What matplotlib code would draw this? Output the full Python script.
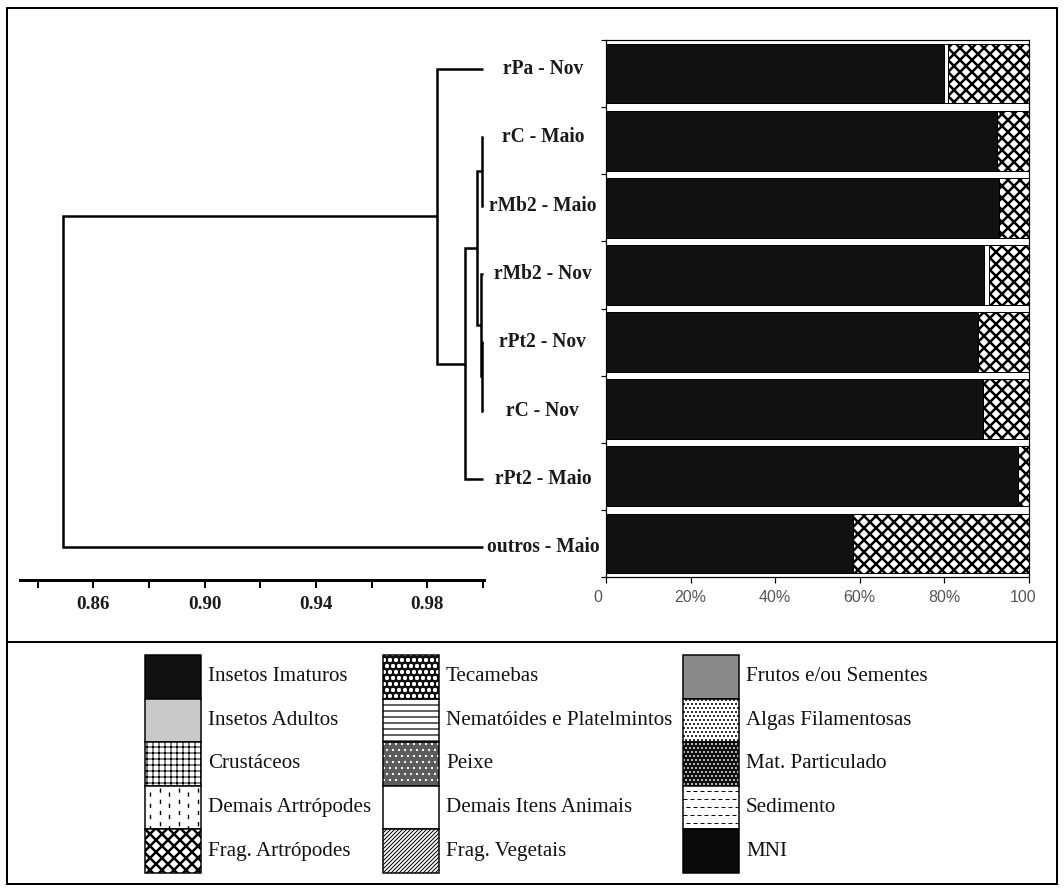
import matplotlib
matplotlib.use("Agg")
import matplotlib.pyplot as plt
import matplotlib.transforms as mtransforms
from matplotlib.patches import Rectangle
import numpy as np

W, H, DPI = 1064, 889, 72  # at 72 dpi one point is one pixel

# samples, in dendrogram leaf order (top to bottom)
leaf_names = ["rPa - Nov", "rC - Maio", "rMb2 - Maio", "rMb2 - Nov",
              "rPt2 - Nov", "rC - Nov", "rPt2 - Maio", "outros - Maio"]

# agglomeration steps: node ids follow scipy's convention (new node = n + step)
merge_pairs = [(1, 2), (4, 5), (3, 9), (8, 10), (11, 6), (0, 12), (13, 7)]
merge_heights = [0.9997, 0.9995, 0.9993, 0.9978, 0.9935, 0.9835, 0.8491]

# diet composition (%) per sample
insetos_imaturos = [80.0, 92.4, 92.9, 89.4, 87.9, 89.1, 97.4, 58.4]
demais_artropodes = [0.8, 0.0, 0.0, 1.2, 0.0, 0.0, 0.0, 0.0]
frag_artropodes = [19.2, 7.6, 7.1, 9.4, 12.1, 10.9, 2.6, 41.6]

sim_ticks = [0.86, 0.90, 0.94, 0.98]
sim_minor = [0.84, 0.88, 0.92, 0.96, 1.00]
pct_ticks = [0, 20, 40, 60, 80, 100]
pct_labels = ["0", "20%", "40%", "60%", "80%", "100"]

legend_columns = [
    ["Insetos Imaturos", "Insetos Adultos", "Crustáceos", "Demais Artrópodes", "Frag. Artrópodes"],
    ["Tecamebas", "Nematóides e Platelmintos", "Peixe", "Demais Itens Animais", "Frag. Vegetais"],
    ["Frutos e/ou Sementes", "Algas Filamentosas", "Mat. Particulado", "Sedimento", "MNI"],
]

styles = {
    "Insetos Imaturos": dict(fc="#111111"),
    "Insetos Adultos": dict(fc="#c9c9c9"),
    "Crustáceos": dict(fc="white", hatch="++", hc="black", hlw=1.0),
    "Demais Artrópodes": dict(fc="white"),
    "Frag. Artrópodes": dict(fc="white", hatch="xx", hc="black", hlw=2.5),
    "Tecamebas": dict(fc="#111111", hatch="oo", hc="white", hlw=1.6),
    "Nematóides e Platelmintos": dict(fc="white", hatch="--", hc="black", hlw=1.2),
    "Peixe": dict(fc="#5c5c5c", hatch="..", hc="white", hlw=1.0),
    "Demais Itens Animais": dict(fc="white"),
    "Frag. Vegetais": dict(fc="white", hatch="//////", hc="black", hlw=1.0),
    "Frutos e/ou Sementes": dict(fc="#8a8a8a"),
    "Algas Filamentosas": dict(fc="white", hatch="...", hc="black", hlw=1.2),
    "Mat. Particulado": dict(fc="#111111", hatch="...", hc="white", hlw=1.0),
    "Sedimento": dict(fc="white"),
    "MNI": dict(fc="#0a0a0a"),
}

bar_series = [
    ("Insetos Imaturos", insetos_imaturos),
    ("Demais Artrópodes", demais_artropodes),
    ("Frag. Artrópodes", frag_artropodes),
]

SERIF = "Liberation Serif"
SANS = "Liberation Sans"


def px_rect(x, y, w, h):
    return [x / W, 1 - (y + h) / H, w / W, h / H]


def hatch_lw(patch, lw):
    if hasattr(patch, "set_hatch_linewidth"):
        patch.set_hatch_linewidth(lw)


fig = plt.figure(figsize=(W / DPI, H / DPI), dpi=DPI, facecolor="white")
plt.rcParams["hatch.linewidth"] = 1.0

# pixel-space canvas for the frame and the legend
bg = fig.add_axes([0, 0, 1, 1])
bg.set_xlim(0, W)
bg.set_ylim(H, 0)
bg.axis("off")
bg.add_patch(Rectangle((7, 8), 1050, 876, fill=False, ec="black", lw=2))
bg.plot([7, 1057], [642, 642], color="black", lw=2)

# ---- dendrogram ----
ax_d = fig.add_axes(px_rect(20, 35, 464, 545))
ax_d.patch.set_alpha(0)
n = len(leaf_names)
node_x = {i: 1.0 for i in range(n)}
node_y = {i: float(i) for i in range(n)}
for k, ((a, b), h) in enumerate(zip(merge_pairs, merge_heights)):
    ax_d.plot([node_x[a], h, h, node_x[b]],
              [node_y[a], node_y[a], node_y[b], node_y[b]],
              color="black", lw=2.5, solid_capstyle="butt", solid_joinstyle="miter")
    node_x[n + k] = h
    node_y[n + k] = (node_y[a] + node_y[b]) / 2

for i, name in enumerate(leaf_names):
    ax_d.text(1.0215, i, name, ha="center", va="center", fontsize=19.5,
              fontweight="bold", family=SERIF, color="#1a1a1a", clip_on=False)

ax_d.set_xlim(0.83367, 1.00036)
ax_d.set_ylim(7.48, -0.498)
for side in ("left", "right", "top"):
    ax_d.spines[side].set_visible(False)
ax_d.spines["bottom"].set_linewidth(3)
ax_d.set_yticks([])
ax_d.set_xticks(sim_ticks)
ax_d.set_xticklabels([f"{t:.2f}" for t in sim_ticks])
ax_d.set_xticks(sim_minor, minor=True)
ax_d.tick_params(axis="x", which="both", direction="out", length=8, width=2, pad=8)
for lab in ax_d.get_xticklabels():
    lab.set_fontsize(19)
    lab.set_fontweight("bold")
    lab.set_family(SERIF)
    lab.set_color("#1a1a1a")

# ---- stacked composition bars ----
ax_b = fig.add_axes(px_rect(606, 40, 423, 537))
ax_b.patch.set_alpha(0)
y = np.arange(n)
left = np.zeros(n)
for name, vals in bar_series:
    vals = np.asarray(vals, dtype=float)
    st = styles[name]
    m = vals > 0
    bars = ax_b.barh(y[m], vals[m], left=left[m], height=0.89, color=st["fc"],
                     edgecolor="black", lw=1, hatch=st.get("hatch"))
    for p in bars:
        hatch_lw(p, st.get("hlw", 1.0))
    left += vals

ax_b.set_xlim(0, 100)
ax_b.set_ylim(7.5, -0.5)
for sp in ax_b.spines.values():
    sp.set_linewidth(1.2)
ax_b.set_xticks(pct_ticks)
ax_b.set_xticklabels(pct_labels)
ax_b.set_yticks(np.arange(-0.5, n, 1.0))
ax_b.set_yticklabels([])
ax_b.tick_params(axis="x", direction="out", length=6, width=1.2, pad=7,
                 labelsize=16, labelcolor="#555555")
ax_b.tick_params(axis="y", direction="out", length=5, width=1.2)
for lab in ax_b.get_xticklabels():
    lab.set_family(SANS)
xl = ax_b.get_xticklabels()
xl[0].set_transform(xl[0].get_transform() +
                    mtransforms.ScaledTranslation(-8 / 72, 0, fig.dpi_scale_trans))
xl[-1].set_transform(xl[-1].get_transform() +
                     mtransforms.ScaledTranslation(-6 / 72, 0, fig.dpi_scale_trans))

# ---- legend ----
col_x = [145, 383, 683]
sw_w, sw_top, sw_h = 56, 655, 43.6
for cx, names in zip(col_x, legend_columns):
    for r, name in enumerate(names):
        st = styles[name]
        y0 = sw_top + r * sw_h
        body = Rectangle((cx, y0), sw_w, sw_h, facecolor=st["fc"],
                         edgecolor=st.get("hc", "none"), lw=0, hatch=st.get("hatch"))
        hatch_lw(body, st.get("hlw", 1.0))
        bg.add_patch(body)
        clip = Rectangle((cx, y0), sw_w, sw_h, transform=bg.transData)
        if name == "Demais Artrópodes":
            for j, xx in enumerate(np.arange(cx + 5, cx + sw_w, 9.5)):
                ln, = bg.plot([xx, xx], [y0 + (2 if j % 2 else 6), y0 + sw_h],
                              color="black", lw=1.4, ls=(0, (3, 5)))
                ln.set_clip_path(clip)
        if name == "Sedimento":
            for j, yy in enumerate(np.arange(y0 + 5, y0 + sw_h, 8)):
                ln, = bg.plot([cx + (0 if j % 2 else 3), cx + sw_w], [yy, yy],
                              color="black", lw=1.0, ls=(0, (4, 3)))
                ln.set_clip_path(clip)
        bg.add_patch(Rectangle((cx, y0), sw_w, sw_h, fill=False, ec="black", lw=1.5))
        bg.text(cx + sw_w + 7, y0 + sw_h / 2, name, ha="left", va="center",
                fontsize=21, family=SERIF, color="#111111")

fig.savefig("out.png", dpi=DPI, facecolor="white")
